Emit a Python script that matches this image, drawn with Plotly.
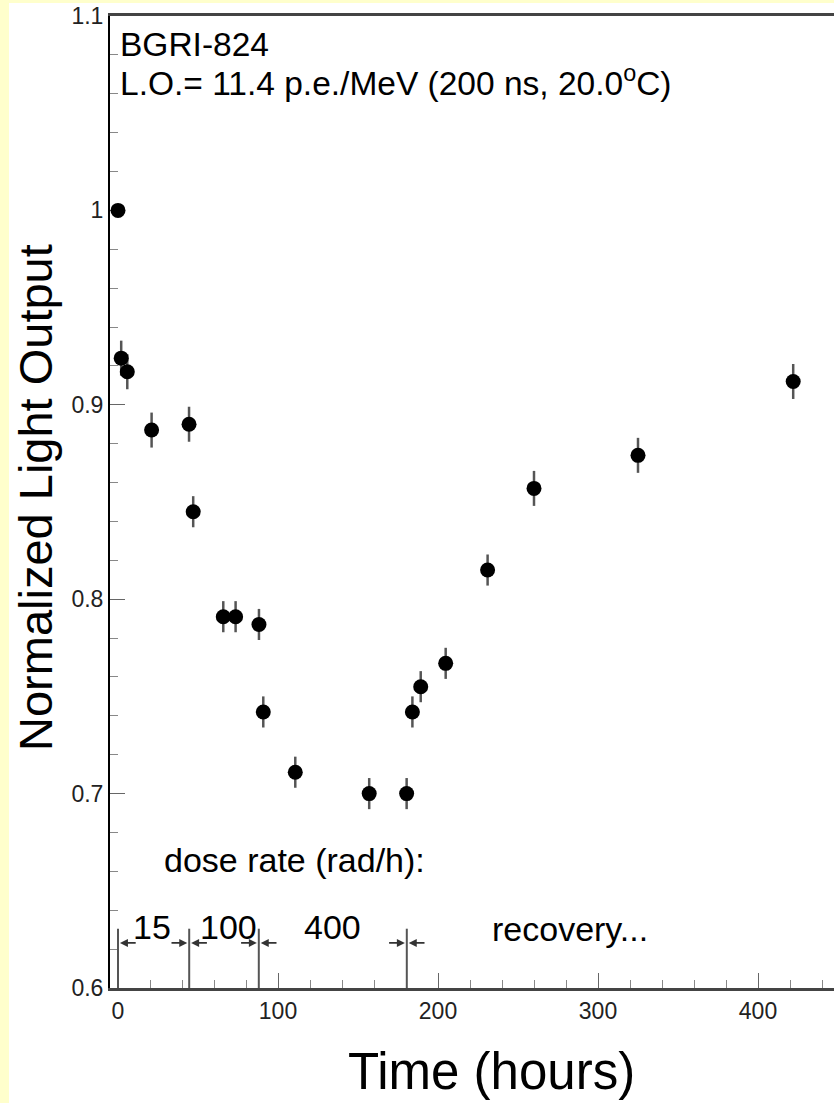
import plotly.graph_objects as go

# ---- data ----
time_h = [0, 2, 5.8, 21, 44.4, 47, 65.8, 73.5, 88.1, 90.8, 110.8, 157, 180.4,
          184, 189.2, 204.8, 231, 260, 325, 422]
light_out = [1.0, 0.924, 0.917, 0.887, 0.890, 0.845, 0.791, 0.791, 0.787, 0.742,
             0.711, 0.700, 0.700, 0.742, 0.755, 0.767, 0.815, 0.857, 0.874, 0.912]
light_err = [0.0, 0.009, 0.009, 0.009, 0.009, 0.008, 0.008, 0.008, 0.008, 0.008,
             0.008, 0.008, 0.008, 0.008, 0.008, 0.008, 0.008, 0.009, 0.009, 0.009]

boundaries = [0, 44.5, 88, 180.5]          # dose-rate period boundaries (hours)
rate_labels = ["15", "100", "400", "recovery..."]
rate_label_x = [21, 69, 134, 282.5]

FONT = "Liberation Sans, Arial, Helvetica, sans-serif"
W, H = 834, 1103
ML, MT, MB, MR = 110, 16, 115, 0
PW, PH = W - ML - MR, H - MT - MB


def px2paper_x(px):
    return (px - ML) / PW


def py2paper_y(py):
    return (H - MB - py) / PH


fig = go.Figure()

# boundary marker lines
bx, by = [], []
for b in boundaries:
    bx += [b, b, None]
    by += [0.6, 0.6305, None]
fig.add_trace(go.Scatter(x=bx, y=by, mode="lines",
                         line=dict(color="#555555", width=2),
                         hoverinfo="skip", showlegend=False))

# data
fig.add_trace(go.Scatter(
    x=time_h, y=light_out, mode="markers",
    marker=dict(color="black", size=15, symbol="circle"),
    error_y=dict(type="data", array=light_err, visible=True,
                 color="#555555", thickness=2.5, width=0),
    showlegend=False))

annotations = []
# arrows towards boundaries
arrow_y = 0.6232
for i, b in enumerate(boundaries):
    if i > 0:
        annotations.append(dict(x=b - 1.2, y=arrow_y, ax=b - 12, ay=arrow_y,
                                xref="x", yref="y", axref="x", ayref="y",
                                text="", showarrow=True, arrowhead=2,
                                arrowsize=1.0, arrowwidth=1.6, arrowcolor="#333333"))
    annotations.append(dict(x=b + 1.2, y=arrow_y, ax=b + 12, ay=arrow_y,
                            xref="x", yref="y", axref="x", ayref="y",
                            text="", showarrow=True, arrowhead=2,
                            arrowsize=1.0, arrowwidth=1.6, arrowcolor="#333333"))

for lab, lx in zip(rate_labels, rate_label_x):
    annotations.append(dict(x=lx, y=0.6315 if lab != "recovery..." else 0.6305,
                            xref="x", yref="y", text=lab, showarrow=False,
                            xanchor="center", yanchor="middle",
                            font=dict(family=FONT, size=34, color="black")))

annotations.append(dict(x=110.6, y=0.666, xref="x", yref="y",
                        text="dose rate (rad/h):", showarrow=False,
                        xanchor="center", yanchor="middle",
                        font=dict(family=FONT, size=34, color="black")))

annotations.append(dict(x=px2paper_x(118), y=py2paper_y(45), xref="paper", yref="paper",
                        xanchor="left", yanchor="middle", text="BGRI-824",
                        showarrow=False, font=dict(family=FONT, size=33.5, color="black")))
annotations.append(dict(x=px2paper_x(118), y=py2paper_y(81), xref="paper", yref="paper",
                        xanchor="left", yanchor="middle",
                        text="L.O.= 11.4 p.e./MeV (200 ns, 20.0<sup>o</sup>C)",
                        showarrow=False, font=dict(family=FONT, size=33.5, color="black")))

# axis titles
annotations.append(dict(x=px2paper_x(491), y=py2paper_y(1071), xref="paper", yref="paper",
                        xanchor="center", yanchor="middle",
                        text="Time (hours)", showarrow=False,
                        font=dict(family=FONT, size=51, color="black")))
annotations.append(dict(x=px2paper_x(35), y=py2paper_y(498), xref="paper", yref="paper",
                        xanchor="center", yanchor="middle",
                        text="Normalized Light Output", textangle=-90, showarrow=False,
                        font=dict(family=FONT, size=47, color="black")))

# yellow page border
shapes = [
    dict(type="rect", xref="paper", yref="paper", layer="below",
         x0=px2paper_x(0), x1=px2paper_x(9), y0=py2paper_y(H), y1=py2paper_y(0),
         fillcolor="#ffffcc", line=dict(width=0)),
    dict(type="rect", xref="paper", yref="paper", layer="below",
         x0=px2paper_x(0), x1=px2paper_x(W), y0=py2paper_y(3), y1=py2paper_y(0),
         fillcolor="#ffffcc", line=dict(width=0)),
]

fig.update_layout(
    width=W, height=H,
    margin=dict(l=ML, r=MR, t=MT, b=MB, pad=0),
    paper_bgcolor="white", plot_bgcolor="white",
    showlegend=False,
    annotations=annotations, shapes=shapes,
    font=dict(family=FONT, color="black"),
    xaxis=dict(range=[-5, 447.5], tickmode="linear", tick0=0, dtick=100,
               ticks="inside", ticklen=15, tickwidth=1, tickcolor="#666666",
               minor=dict(ticks="inside", ticklen=8, dtick=20, tickcolor="#888888", tickwidth=1),
               showline=True, linecolor="#444444", linewidth=3, mirror=True,
               showgrid=False, zeroline=False, layer="below traces",
               tickfont=dict(family=FONT, size=23, color="#222222")),
    yaxis=dict(range=[0.6, 1.1], tickmode="linear", tick0=0.6, dtick=0.1,
               ticks="inside", ticklen=15, tickwidth=1, tickcolor="#666666",
               minor=dict(ticks="inside", ticklen=8, dtick=0.02, tickcolor="#888888", tickwidth=1),
               showline=True, linecolor="black", linewidth=2, mirror=False,
               showgrid=False, zeroline=False, layer="below traces",
               tickfont=dict(family=FONT, size=23, color="#222222")),
)

fig.write_html("out.html", config={"displayModeBar": False},
               post_script="document.body.style.margin='0';document.body.style.overflow='hidden';")
